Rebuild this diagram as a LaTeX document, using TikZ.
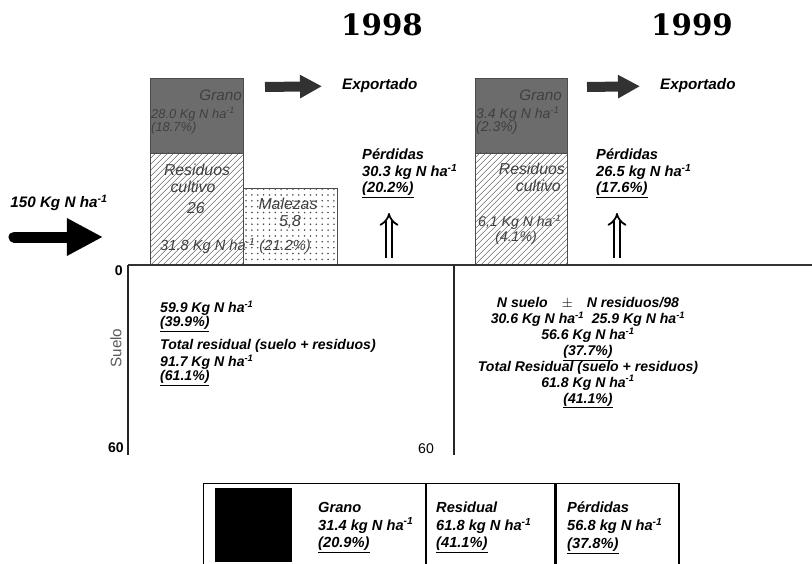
\documentclass[tikz,border=0pt]{standalone}
\usepackage{fontspec}
\setmainfont{Liberation Sans}
\newfontfamily\yearfont{DejaVu Serif}
\usepackage[]{xcolor}
\usepackage{tikz}
\usetikzlibrary{arrows.meta, patterns.meta, positioning}
\definecolor{granogray}{RGB}{108,108,108}
\definecolor{arrowgray}{RGB}{50,50,50}
\newcommand{\nha}{ha\textsuperscript{-1}}
\tikzset{
		year/.style={font=\yearfont\bfseries\fontsize{25}{28}\selectfont},
		lbl/.style={font=\fontsize{12.5}{14}\selectfont\bfseries\itshape, align=left, inner sep=0pt},
		soil/.style={font=\fontsize{12}{13.6}\selectfont\bfseries\itshape, inner sep=0pt},
		legend/.style={font=\fontsize{12.5}{15}\selectfont\bfseries\itshape, align=left, inner sep=0pt, anchor=north west},
		barlbl/.style={font=\fontsize{11}{12}\selectfont\itshape, text=black!75, inner sep=0pt},
		bigbarlbl/.style={barlbl, font=\fontsize{13.5}{14}\selectfont\itshape},
		grano/.style={draw=black!70, fill=granogray, inner sep=0pt, minimum height=2.25cm},
		residuos/.style={draw=black!70, inner sep=0pt, minimum height=3.36cm,
			pattern={Lines[angle=45, distance=4pt, line width=0.6pt]}, pattern color=black!70},
		malezas/.style={draw=black!70, inner sep=0pt, minimum width=2.82cm, minimum height=2.31cm,
			pattern={Dots[distance=5pt, radius=0.75pt]}, pattern color=black!70},
		fat/.style={line width=0.3cm, arrowgray, shorten >=0.6cm, -{Triangle[length=0.66cm, width=0.66cm]}},
		loss/.style={double, double distance=4pt, line width=1.5pt, -{Implies[length=10pt]}},
		cell/.style={draw, line width=1pt, inner sep=0pt, minimum height=2.49cm}
	}
\begin{document}
\begin{tikzpicture}[x=0.03cm, y=-0.03cm]
				\useasboundingbox (0,0) rectangle (812,564);
				% years
				\node[year] (y98) at (382,25) {1998};
				\node[year] (y99) at (692,25) {1999};

				% 1998 bars
				\node[grano, minimum width=2.79cm]    (gr98)  at (196.5,115.5) {};
				\node[residuos, minimum width=2.79cm] (res98) at (196.5,209)   {};
				\node[malezas]                        (mal98) at (290,226.5)   {};
				\node[bigbarlbl, font=\fontsize{13}{14}\selectfont\itshape, anchor=east] at (242,95) {Grano};
				\node[barlbl, anchor=west] at (151,114) {28.0 Kg N \nha};
				\node[barlbl, anchor=west] at (151,128) {(18.7\%)};
				\node[bigbarlbl] at (197,170) {Residuos};
				\node[bigbarlbl] at (193,187) {cultivo};
				\node[bigbarlbl] at (196,208) {26};
				\node[bigbarlbl] at (288,204) {Malezas};
				\node[bigbarlbl] at (290,222) {5,8};
				\node[barlbl, font=\fontsize{12.5}{13}\selectfont\itshape, anchor=west] at (160,246) {31.8 Kg N \nha\ (21.2\%)};

				% 1999 bars
				\node[grano, minimum width=2.76cm]    (gr99)  at (521,115.5) {};
				\node[residuos, minimum width=2.76cm] (res99) at (521,209)   {};
				\node[bigbarlbl, font=\fontsize{13}{14}\selectfont\itshape, anchor=east] at (562,95) {Grano};
				\node[barlbl, font=\fontsize{12}{13}\selectfont\itshape, anchor=west] at (476,114) {3.4 Kg N \nha};
				\node[barlbl, font=\fontsize{12}{13}\selectfont\itshape, anchor=west] at (476,128) {(2.3\%)};
				\node[bigbarlbl, anchor=east] at (565,169) {Residuos};
				\node[bigbarlbl, anchor=east] at (561,186) {cultivo};
				\node[barlbl, font=\fontsize{12}{13}\selectfont\itshape, anchor=west] at (478,222) {6,1 Kg N \nha};
				\node[barlbl, font=\fontsize{12}{13}\selectfont\itshape] at (516,238) {(4.1\%)};

				% exported grain
				\node[lbl, font=\fontsize{13}{14}\selectfont\bfseries\itshape, anchor=west] (exp98) at (342,86) {Exportado};
				\node[lbl, font=\fontsize{13}{14}\selectfont\bfseries\itshape, anchor=west] (exp99) at (660,86) {Exportado};
				\coordinate (e98) at (265,87);
				\coordinate (e99) at (587,87);
				\draw[fat] (e98) -- (exp98.west);
				\draw[fat] (e99) -- (exp99.west);

				% losses
				\node[lbl, anchor=north west] (per98) at (362,149) {P\'erdidas\\30.3 kg N \nha\\\underline{(20.2\%)}};
				\node[lbl, anchor=north west] (per99) at (596,149) {P\'erdidas\\26.5 kg N \nha\\\underline{(17.6\%)}};
				\coordinate (l98a) at (389,258);
				\coordinate (l98b) at (389,213);
				\coordinate (l99a) at (617,258);
				\coordinate (l99b) at (617,213);
				\draw[loss] (l98a) -- (l98b);
				\draw[loss] (l99a) -- (l99b);

				% input
				\node[lbl, font=\fontsize{13}{14}\selectfont\bfseries\itshape] (inp) at (59,203) {150 Kg N \nha};
				\coordinate (in0) at (14,237);
				\coordinate (in1) at (103,237);
				\draw[line width=0.33cm, line cap=round, -{Triangle[length=1.08cm, width=1.05cm]}] (in0) -- (in1);

				% soil
				\coordinate (s0) at (128,265);
				\coordinate (s1) at (812,265);
				\coordinate (s60) at (128,455);
				\coordinate (m0) at (454,265);
				\coordinate (m60) at (454,455);
				\draw[line width=1.5pt, black!80] (s0) -- (s1);
				\draw[line width=1.5pt, black!85] (s0) -- (s60);
				\draw[line width=1.5pt, black!85] (m0) -- (m60);
				\node[font=\bfseries\fontsize{12}{12}\selectfont, anchor=east, inner sep=0pt] at (123,271) {0};
				\node[font=\bfseries\fontsize{12}{12}\selectfont, anchor=east, inner sep=0pt] at (124,448) {60};
				\node[font=\fontsize{12}{12}\selectfont, inner sep=0pt] at (426,449) {60};
				\node[font=\fontsize{13}{13}\selectfont, text=black!65, rotate=90, inner sep=0pt] at (116,348) {Suelo};

				\node[soil, anchor=west] at (160,308) {59.9 Kg N \nha};
				\node[soil, anchor=west] at (160,324) {\underline{(39.9\%)}};
				\node[soil, anchor=west] at (160,346) {Total residual (suelo + residuos)};
				\node[soil, anchor=west] at (160,362) {91.7 Kg N \nha};
				\node[soil, anchor=west] at (160,378) {\underline{(61.1\%)}};

				\node[soil, align=center, anchor=north] at (588,297) {N suelo\quad $\pm$\quad N residuos/98\\
					30.6 Kg N \nha\ \ 25.9 Kg N \nha\\56.6 Kg N \nha\\\underline{(37.7\%)}\\
					Total Residual (suelo + residuos)\\61.8 Kg N \nha\\\underline{(41.1\%)}};

				% legend
				\node[cell, minimum width=6.66cm, anchor=north west] (c1) at (203,483) {};
				\node[cell, minimum width=3.84cm, anchor=north west] (c2) at (c1.north east) {};
				\node[cell, minimum width=3.69cm, anchor=north west] (c3) at (c2.north east) {};
				\node[fill=black, minimum width=2.31cm, minimum height=2.22cm, inner sep=0pt, anchor=north west] (sq) at (215,488) {};
				\node[legend] at (318,502) {Grano\\31.4 kg N \nha\\\underline{(20.9\%)}};
				\node[legend] at (436,502) {Residual\\61.8 kg N \nha\\\underline{(41.1\%)}};
				\node[legend] at (567,502) {P\'erdidas\\56.8 kg N \nha\\\underline{(37.8\%)}};
			\end{tikzpicture}
\end{document}
